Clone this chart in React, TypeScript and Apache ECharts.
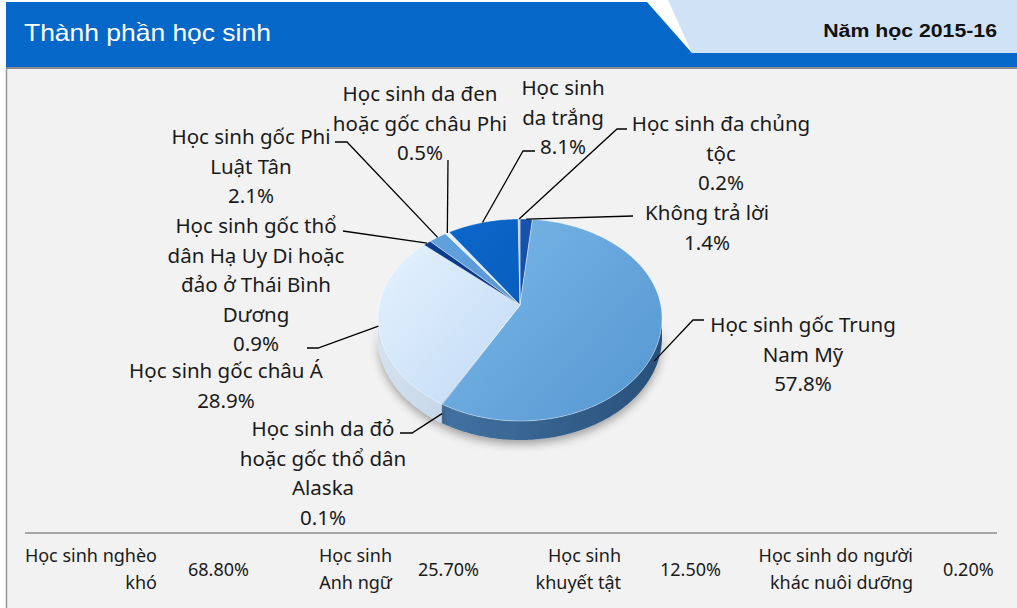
import React, { useEffect, useRef } from 'react';
import * as echarts from 'echarts';

// ---------- data ----------
const title = 'Thành phần học sinh';
const yearLabel = 'Năm học 2015-16';

const categories = [
  'Không trả lời',
  'Học sinh gốc Trung Nam Mỹ',
  'Học sinh da đỏ hoặc gốc thổ dân Alaska',
  'Học sinh gốc châu Á',
  'Học sinh gốc thổ dân Hạ Uy Di hoặc đảo ở Thái Bình Dương',
  'Học sinh gốc Phi Luật Tân',
  'Học sinh da đen hoặc gốc châu Phi',
  'Học sinh da trắng',
  'Học sinh đa chủng tộc',
];
const shares = [1.4, 57.8, 0.1, 28.9, 0.9, 2.1, 0.5, 8.1, 0.2];
const labelLines = [
  ['Không trả lời'],
  ['Học sinh gốc Trung', 'Nam Mỹ'],
  ['Học sinh da đỏ', 'hoặc gốc thổ dân', 'Alaska'],
  ['Học sinh gốc châu Á'],
  ['Học sinh gốc thổ', 'dân Hạ Uy Di hoặc', 'đảo ở Thái Bình', 'Dương'],
  ['Học sinh gốc Phi', 'Luật Tân'],
  ['Học sinh da đen', 'hoặc gốc châu Phi'],
  ['Học sinh', 'da trắng'],
  ['Học sinh đa chủng', 'tộc'],
];

const tableLabels = ['Học sinh nghèo\nkhó', 'Học sinh\nAnh ngữ', 'Học sinh\nkhuyết tật', 'Học sinh do người\nkhác nuôi dưỡng'];
const tableValues = [68.8, 25.7, 12.5, 0.2];

// ---------- layout / style ----------
const PIE = { cx: 520, cy: 318, apexY: 305, rx: 142, ryBack: 99, ryFront: 103, depth: 19 };
const topColors = [
  ['#1d5cb8', '#0e4196'],
  ['#80bdec', '#5b9bd4'],
  ['#2d64a6', '#1f4e8c'],
  ['#e8f3fe', '#b3d2f3'],
  ['#0c3f94', '#082f75'],
  ['#66a6e2', '#4b8acb'],
  ['#e8f2fc', '#cfe1f5'],
  ['#0d6ad0', '#0454ae'],
  ['#b8d5f2', '#94bde8'],
];
const sideColors = [
  ['#123f80', '#0c2f66'],
  ['#4a7cad', '#28507a'],
  ['#234c7c', '#1a3b63'],
  ['#d3e1ef', '#9fb8d4'],
  ['#0a2f6c', '#072456'],
  ['#3f73a8', '#2f5d8c'],
  ['#b9cde2', '#9fb6cf'],
  ['#0a4f9c', '#073d7c'],
  ['#7fa3c8', '#6489b0'],
];
// label text centre x, first-line centre y, and leader points from label side
const labelLayout = [
  { x: 707, y: 212, leader: [[633, 216]] },
  { x: 803, y: 324, leader: [[704, 320], [693, 320]] },
  { x: 323, y: 428, leader: [[400, 433], [412, 433]] },
  { x: 226, y: 370, leader: [[307, 348], [318, 348]] },
  { x: 256, y: 225, leader: [[343, 231]] },
  { x: 251, y: 136, leader: [[335, 142], [347, 142]] },
  { x: 420, y: 93, leader: [[448, 160]] },
  { x: 563, y: 87, leader: [[535, 151], [523, 151]] },
  { x: 721, y: 123, leader: [[627, 129], [617, 129]] },
];
const LINE_H = 29.5;
const LABEL_FONT = '20.5px "Noto Sans", "DejaVu Sans", sans-serif';
const TABLE_FONT = '18px "Noto Sans", "DejaVu Sans", sans-serif';
const tableLayout = [
  { labelRight: 157, valueLeft: 188 },
  { labelRight: 392, valueLeft: 418 },
  { labelRight: 621, valueLeft: 660 },
  { labelRight: 913, valueLeft: 943 },
];

function rim(deg: number) {
  const t = (deg * Math.PI) / 180;
  const s = Math.sin(t);
  return [PIE.cx + PIE.rx * Math.cos(t), PIE.cy + (s < 0 ? PIE.ryBack : PIE.ryFront) * s];
}

function sliceAngles(start: number, val: number) {
  const a = -90 + start * 3.6;
  const b = a + val * 3.6;
  return [a, b];
}

function arcPoints(a: number, b: number) {
  const pts: number[][] = [];
  const n = Math.max(2, Math.ceil((b - a) / 1));
  for (let k = 0; k <= n; k++) pts.push(rim(a + ((b - a) * k) / n));
  return pts;
}

export default function App() {
  const ref = useRef<HTMLDivElement>(null);
  useEffect(() => {
    if (!ref.current) return;
    const chart = echarts.init(ref.current, undefined, { renderer: 'svg' });

    const cum: number[] = [];
    let acc = 0;
    shares.forEach((v) => {
      cum.push(acc);
      acc += v;
    });
    const data = shares.map((v, i) => ({ name: categories[i], value: [cum[i], v, i] }));

    const grad = (c: string[], horizontal: boolean) =>
      horizontal
        ? new echarts.graphic.LinearGradient(PIE.cx - PIE.rx, 0, PIE.cx + PIE.rx, 0, [
            { offset: 0, color: c[0] },
            { offset: 1, color: c[1] },
          ], true)
        : new echarts.graphic.LinearGradient(
            PIE.cx - PIE.rx, PIE.cy - PIE.ryBack, PIE.cx + PIE.rx * 0.6, PIE.cy + PIE.ryFront,
            [
              { offset: 0, color: c[0] },
              { offset: 1, color: c[1] },
            ],
            true
          );

    const sideSeries = {
      type: 'custom',
      coordinateSystem: 'none',
      z: 3,
      silent: true,
      data,
      renderItem: (params: any, api: any) => {
        const i = api.value(2);
        const [a, b] = sliceAngles(api.value(0), api.value(1));
        const lo = Math.max(a, 0);
        const hi = Math.min(b, 180);
        if (hi <= lo) return { type: 'group', children: [] };
        const top = arcPoints(lo, hi);
        const bottom = top.map((p) => [p[0], p[1] + PIE.depth]).reverse();
        return {
          type: 'polygon',
          shape: { points: top.concat(bottom) },
          style: {
            fill: grad(sideColors[i], true),
            shadowBlur: 10,
            shadowColor: 'rgba(0,0,0,0.35)',
            shadowOffsetY: 4,
          },
        };
      },
    };

    const topSeries = {
      type: 'custom',
      coordinateSystem: 'none',
      z: 4,
      silent: true,
      data,
      renderItem: (params: any, api: any) => {
        const i = api.value(2);
        const [a, b] = sliceAngles(api.value(0), api.value(1));
        const pts = [[PIE.cx, PIE.apexY]].concat(arcPoints(a, b));
        return {
          type: 'polygon',
          shape: { points: pts },
          style: {
            fill: grad(topColors[i], false),
            stroke: 'rgba(255,255,255,0.55)',
            lineWidth: 0.7,
          },
        };
      },
    };

    const labelSeries = {
      type: 'custom',
      coordinateSystem: 'none',
      z: 6,
      silent: true,
      data,
      renderItem: (params: any, api: any) => {
        const i = api.value(2);
        const v = api.value(1);
        const [a, b] = sliceAngles(api.value(0), v);
        const mid = (a + b) / 2;
        const e = rim(mid);
        if (Math.sin((mid * Math.PI) / 180) > 0.3) e[1] += PIE.depth * 0.5;
        const lay = labelLayout[i];
        const pts = lay.leader.concat([e]);
        const text = labelLines[i].join('\n') + '\n' + v.toFixed(1) + '%';
        return {
          type: 'group',
          children: [
            {
              type: 'polyline',
              shape: { points: pts },
              style: { stroke: '#000', lineWidth: 1.3, fill: 'none' },
            },
            {
              type: 'text',
              style: {
                text,
                x: lay.x,
                y: lay.y - LINE_H / 2,
                align: 'center',
                verticalAlign: 'top',
                lineHeight: LINE_H,
                font: LABEL_FONT,
                fill: '#1a1a1a',
              },
            },
          ],
        };
      },
    };

    const tableEls: any[] = [];
    tableLabels.forEach((lab, k) => {
      const L = tableLayout[k];
      tableEls.push({
        type: 'text',
        z: 10,
        style: {
          text: lab,
          x: L.labelRight,
          y: 555 - 13.5,
          align: 'right',
          verticalAlign: 'top',
          lineHeight: 27,
          font: TABLE_FONT,
          fill: '#1a1a1a',
        },
      });
      tableEls.push({
        type: 'text',
        z: 10,
        style: {
          text: tableValues[k].toFixed(2) + '%',
          x: L.valueLeft,
          y: 569,
          align: 'left',
          verticalAlign: 'middle',
          font: TABLE_FONT,
          fill: '#1a1a1a',
        },
      });
    });

    chart.setOption({
      animation: false,
      backgroundColor: '#ffffff',
      graphic: {
        elements: [
          { type: 'rect', z: 0, shape: { x: 6, y: 68, width: 1011, height: 540 }, style: { fill: '#f2f2f2' } },
          { type: 'line', z: 1, shape: { x1: 6.5, y1: 68, x2: 6.5, y2: 608 }, style: { stroke: '#9a9a9a', lineWidth: 1.5 } },
          { type: 'line', z: 1, shape: { x1: 6, y1: 68, x2: 1017, y2: 68 }, style: { stroke: '#8a8a8a', lineWidth: 2 } },
          {
            type: 'polygon', z: 1,
            shape: { points: [[6, 2], [647, 2], [692, 53], [1017, 53], [1017, 67], [6, 67]] },
            style: { fill: '#0567c8' },
          },
          {
            type: 'polygon', z: 1,
            shape: { points: [[668, 0], [1017, 0], [1017, 53], [692, 53]] },
            style: { fill: '#cfe2f6' },
          },
          {
            type: 'text', z: 2, x: 24, y: 33, scaleX: 1.15,
            style: { text: title, x: 0, y: 0, verticalAlign: 'middle', font: '23px "Liberation Sans", Arial, sans-serif', fill: '#ffffff' },
          },
          {
            type: 'text', z: 2, x: 997, y: 30, scaleX: 1.12,
            style: { text: yearLabel, x: 0, y: 0, align: 'right', verticalAlign: 'middle', font: 'bold 19px "Liberation Sans", Arial, sans-serif', fill: '#111111' },
          },
          { type: 'line', z: 1, shape: { x1: 25, y1: 533, x2: 997, y2: 533 }, style: { stroke: '#8c8c8c', lineWidth: 1.5 } },
          ...tableEls,
        ],
      },
      series: [sideSeries, topSeries, labelSeries],
    } as any);

    return () => chart.dispose();
  }, []);

  return <div ref={ref} style={{ position: 'absolute', left: 0, top: 0, width: 1017, height: 608 }} />;
}
